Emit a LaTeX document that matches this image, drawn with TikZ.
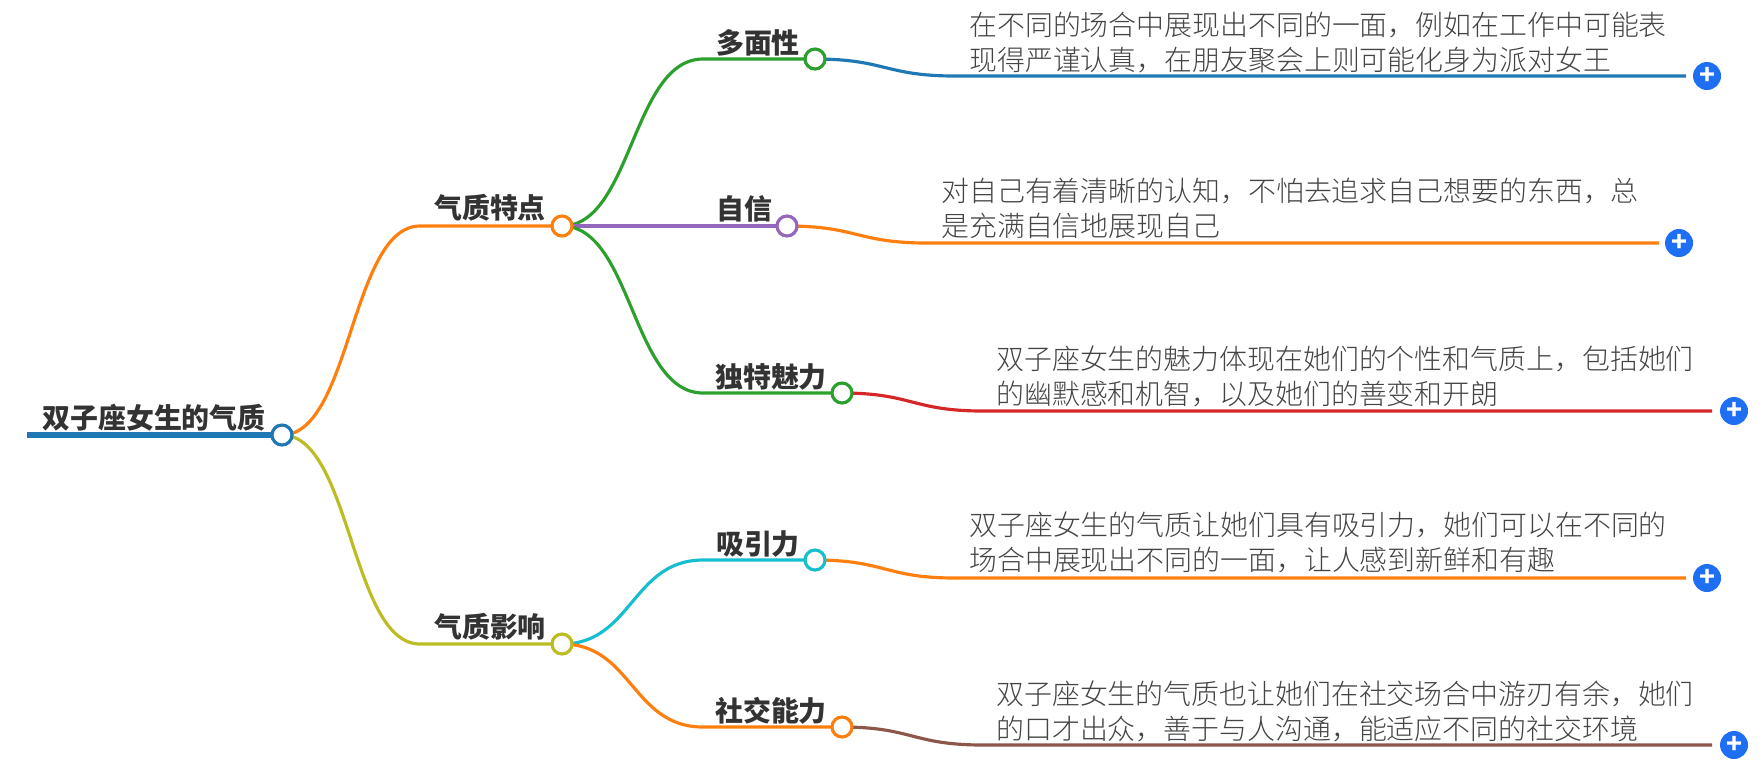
\documentclass[tikz,border=0pt]{standalone}
\usepackage{fontspec}
\setmainfont{Noto Sans CJK SC}
\newfontfamily\bodyfont{Noto Sans CJK SC Light}
\usetikzlibrary{arrows.meta, backgrounds}

\begin{document}
\begin{tikzpicture}[x=0.02cm,y=-0.02cm]
        % Define styles for the vertices, labels and lines
        \tikzset{
            v_ring/.style={draw=#1, circle, line width=1.8pt, inner sep=0pt, minimum size=20*0.02cm, fill=white},
            v_plus/.style={circle, inner sep=0pt, minimum size=28*0.02cm, fill=plusblue, text=white, font=\fontsize{15}{15}\selectfont\bfseries},
            t_head/.style={inner sep=0pt, text=inktext, font=\fontsize{15.9}{18}\selectfont\bfseries},
            t_body/.style={inner sep=0pt, anchor=west, align=left, text=bodytext, font=\fontsize{15.88}{20}\selectfont\bodyfont},
            l_branch/.style={draw=#1, line width=1.8pt}
        }
        \definecolor{rootblue}{HTML}{1F77B4}
        \definecolor{lineorange}{HTML}{FF7F0E}
        \definecolor{linegreen}{HTML}{2CA02C}
        \definecolor{linered}{HTML}{D62728}
        \definecolor{linepurple}{HTML}{9467BD}
        \definecolor{linebrown}{HTML}{8C564B}
        \definecolor{lineolive}{HTML}{BCBD22}
        \definecolor{linecyan}{HTML}{17BECF}
        \definecolor{plusblue}{HTML}{1F6FF5}
        \definecolor{inktext}{HTML}{333333}
        \definecolor{bodytext}{HTML}{444444}

        \useasboundingbox (0,0) rectangle (1763,769);

        % Root
        \coordinate (c_start) at (27,435);
        \node[v_ring=rootblue] (v_root) at (282,435) {};
        \node[t_head] (t_root) at (154,417.5) {双子座女生的气质};

        % Branch 1: traits
        \coordinate (k_traits) at (420,226);
        \node[v_ring=lineorange] (v_traits) at (562,226) {};
        \node[t_head] (t_traits) at (490,208) {气质特点};

        % Branch 2: influence
        \coordinate (k_effect) at (420,644);
        \node[v_ring=lineolive] (v_effect) at (562,644) {};
        \node[t_head] (t_effect) at (490,627) {气质影响};

        % Leaf 1: many sides
        \coordinate (k_many) at (703,59);
        \coordinate (k_many_t) at (955,76);
        \coordinate (e_many) at (1686,76);
        \node[v_ring=linegreen] (v_many) at (815,59) {};
        \node[t_head] (t_many) at (758,42.5) {多面性};
        \node[v_plus] (p_many) at (1707,76) {+};
        \node[t_body] (b_many) at (969,42.5) {在不同的场合中展现出不同的一面，例如在工作中可能表\\现得严谨认真，在朋友聚会上则可能化身为派对女王};

        % Leaf 2: confidence
        \coordinate (k_conf_t) at (927,243);
        \coordinate (e_conf) at (1659,243);
        \node[v_ring=linepurple] (v_conf) at (787,226) {};
        \node[t_head] (t_conf) at (744,209) {自信};
        \node[v_plus] (p_conf) at (1679,243) {+};
        \node[t_body] (b_conf) at (941,208.5) {对自己有着清晰的认知，不怕去追求自己想要的东西，总\\是充满自信地展现自己};

        % Leaf 3: charm
        \coordinate (k_charm) at (703,393);
        \coordinate (k_charm_t) at (983,411);
        \coordinate (e_charm) at (1712,411);
        \node[v_ring=linegreen] (v_charm) at (842,393) {};
        \node[t_head] (t_charm) at (771,377) {独特魅力};
        \node[v_plus] (p_charm) at (1734,411) {+};
        \node[t_body] (b_charm) at (996,376.5) {双子座女生的魅力体现在她们的个性和气质上，包括她们\\的幽默感和机智，以及她们的善变和开朗};

        % Leaf 4: attraction
        \coordinate (k_pull) at (703,560);
        \coordinate (k_pull_t) at (955,578);
        \coordinate (e_pull) at (1686,578);
        \node[v_ring=linecyan] (v_pull) at (815,560) {};
        \node[t_head] (t_pull) at (758,544) {吸引力};
        \node[v_plus] (p_pull) at (1707,578) {+};
        \node[t_body] (b_pull) at (969,542.5) {双子座女生的气质让她们具有吸引力，她们可以在不同的\\场合中展现出不同的一面，让人感到新鲜和有趣};

        % Leaf 5: social skill
        \coordinate (k_social) at (703,727);
        \coordinate (k_social_t) at (983,745);
        \coordinate (e_social) at (1712,745);
        \node[v_ring=lineorange] (v_social) at (842,727) {};
        \node[t_head] (t_social) at (771,711) {社交能力};
        \node[v_plus] (p_social) at (1734,745) {+};
        \node[t_body] (b_social) at (996,711.5) {双子座女生的气质也让她们在社交场合中游刃有余，她们\\的口才出众，善于与人沟通，能适应不同的社交环境};

        % Connectors go behind the rings
        \begin{scope}[on background layer]
            \draw[rootblue, line width=3.8pt] (c_start) -- (v_root.center);
            \draw[l_branch=lineorange] (v_root.center) .. controls (351,435) and (351,226) .. (k_traits) -- (v_traits.center);
            \draw[l_branch=lineolive] (v_root.center) .. controls (351,435) and (351,644) .. (k_effect) -- (v_effect.center);
            \draw[l_branch=linegreen] (v_traits.center) .. controls (632,226) and (632,59) .. (k_many) -- (v_many.center);
            \draw[l_branch=rootblue] (v_many.center) .. controls (885,59) and (885,76) .. (k_many_t) -- (e_many);
            \draw[l_branch=linepurple] (v_traits.center) -- (v_conf.center);
            \draw[l_branch=lineorange] (v_conf.center) .. controls (857,226) and (857,243) .. (k_conf_t) -- (e_conf);
            \draw[l_branch=linegreen] (v_traits.center) .. controls (632,226) and (632,393) .. (k_charm) -- (v_charm.center);
            \draw[l_branch=linered] (v_charm.center) .. controls (912,393) and (912,411) .. (k_charm_t) -- (e_charm);
            \draw[l_branch=linecyan] (v_effect.center) .. controls (632,644) and (632,560) .. (k_pull) -- (v_pull.center);
            \draw[l_branch=lineorange] (v_pull.center) .. controls (885,560) and (885,578) .. (k_pull_t) -- (e_pull);
            \draw[l_branch=lineorange] (v_effect.center) .. controls (632,644) and (632,727) .. (k_social) -- (v_social.center);
            \draw[l_branch=linebrown] (v_social.center) .. controls (912,727) and (912,745) .. (k_social_t) -- (e_social);
        \end{scope}
\end{tikzpicture}
\end{document}
